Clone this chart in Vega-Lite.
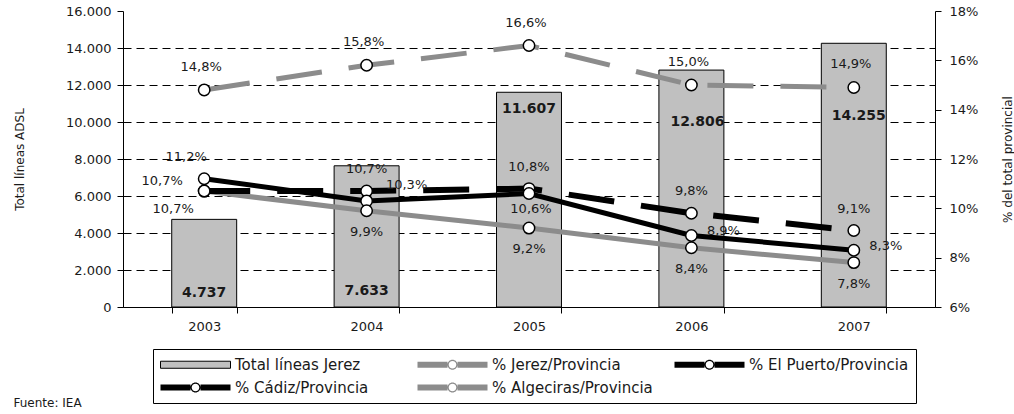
{
  "$schema": "https://vega.github.io/schema/vega-lite/v6.json",
  "width": 812,
  "height": 296,
  "autosize": {"type": "none"},
  "padding": {"left": 123, "top": 11, "right": 79, "bottom": 107},
  "title": {"text": "Fuente: IEA", "orient": "bottom", "anchor": "start", "frame": "bounds", "offset": -6, "dx": 0, "fontSize": 12, "fontWeight": "normal", "color": "#1a1a1a", "font": "DejaVu Sans"},
  "config": {
    "locale": {"number": {"decimal": ",", "thousands": ".", "grouping": [3], "currency": ["", " €"]}},
    "view": {"stroke": null},
    "font": "DejaVu Sans",
    "text": {"font": "DejaVu Sans", "color": "#1a1a1a"}
  },
  "datasets": {
    "bars": [
      {"year": "2003", "total": 4737},
      {"year": "2004", "total": 7633},
      {"year": "2005", "total": 11607},
      {"year": "2006", "total": 12806},
      {"year": "2007", "total": 14255}
    ],
    "pct": [
      {"year": "2003", "serie": "% Jerez/Provincia", "pct": 0.148},
      {"year": "2004", "serie": "% Jerez/Provincia", "pct": 0.158},
      {"year": "2005", "serie": "% Jerez/Provincia", "pct": 0.166},
      {"year": "2006", "serie": "% Jerez/Provincia", "pct": 0.150},
      {"year": "2007", "serie": "% Jerez/Provincia", "pct": 0.149},
      {"year": "2003", "serie": "% El Puerto/Provincia", "pct": 0.107},
      {"year": "2004", "serie": "% El Puerto/Provincia", "pct": 0.107},
      {"year": "2005", "serie": "% El Puerto/Provincia", "pct": 0.108},
      {"year": "2006", "serie": "% El Puerto/Provincia", "pct": 0.098},
      {"year": "2007", "serie": "% El Puerto/Provincia", "pct": 0.091},
      {"year": "2003", "serie": "% Cádiz/Provincia", "pct": 0.112},
      {"year": "2004", "serie": "% Cádiz/Provincia", "pct": 0.103},
      {"year": "2005", "serie": "% Cádiz/Provincia", "pct": 0.106},
      {"year": "2006", "serie": "% Cádiz/Provincia", "pct": 0.089},
      {"year": "2007", "serie": "% Cádiz/Provincia", "pct": 0.083},
      {"year": "2003", "serie": "% Algeciras/Provincia", "pct": 0.107},
      {"year": "2004", "serie": "% Algeciras/Provincia", "pct": 0.099},
      {"year": "2005", "serie": "% Algeciras/Provincia", "pct": 0.092},
      {"year": "2006", "serie": "% Algeciras/Provincia", "pct": 0.084},
      {"year": "2007", "serie": "% Algeciras/Provincia", "pct": 0.078}
    ]
  },
  "layer": [
    {
      "data": {"name": "bars"},
      "encoding": {
        "x": {"field": "year", "type": "nominal", "scale": {"paddingInner": 0.6, "paddingOuter": 0.3},
          "axis": {"title": null, "labelAngle": 0, "tickBand": "extent", "domainColor": "black", "tickColor": "black", "tickSize": 6, "labelPadding": 7, "labelFontSize": 13, "labelColor": "#1a1a1a", "labelFont": "DejaVu Sans"}},
        "y": {"field": "total", "type": "quantitative", "scale": {"domain": [0, 16000], "nice": false},
          "axis": {"title": "Total líneas ADSL", "values": [0, 2000, 4000, 6000, 8000, 10000, 12000, 14000, 16000], "format": ",.0f",
            "grid": true, "gridDash": [8, 5], "gridColor": "black", "gridWidth": 1,
            "gridOpacity": {"condition": {"test": "datum.value >= 16000", "value": 0}, "value": 1},
            "domainColor": "black", "tickColor": "black", "tickSize": 6, "labelPadding": 6,
            "labelFontSize": 13, "labelColor": "#1a1a1a", "labelFont": "DejaVu Sans",
            "titleFontSize": 12, "titleFontWeight": "normal", "titleColor": "#1a1a1a", "titleFont": "DejaVu Sans", "titlePadding": 39}}
      },
      "layer": [
        {
          "mark": {"type": "bar", "fill": "#c0c0c0", "stroke": "black", "strokeWidth": 1}
        },
        {
          "transform": [{"filter": "datum.year == '2003'"}],
          "mark": {"type": "text", "dy": 74, "fontWeight": "bold", "fontSize": 14},
          "encoding": {"text": {"field": "total", "type": "quantitative", "format": ",.0f"}}
        },
        {
          "transform": [{"filter": "datum.year == '2004'"}],
          "mark": {"type": "text", "dy": 125, "fontWeight": "bold", "fontSize": 14},
          "encoding": {"text": {"field": "total", "type": "quantitative", "format": ",.0f"}}
        },
        {
          "transform": [{"filter": "datum.year == '2005'"}],
          "mark": {"type": "text", "dy": 17, "fontWeight": "bold", "fontSize": 14},
          "encoding": {"text": {"field": "total", "type": "quantitative", "format": ",.0f"}}
        },
        {
          "transform": [{"filter": "datum.year == '2006'"}],
          "mark": {"type": "text", "dy": 52, "dx": 6, "fontWeight": "bold", "fontSize": 14},
          "encoding": {"text": {"field": "total", "type": "quantitative", "format": ",.0f"}}
        },
        {
          "transform": [{"filter": "datum.year == '2007'"}],
          "mark": {"type": "text", "dy": 73, "dx": 5, "fontWeight": "bold", "fontSize": 14},
          "encoding": {"text": {"field": "total", "type": "quantitative", "format": ",.0f"}}
        }
      ]
    },
    {
      "data": {"name": "pct"},
      "encoding": {
        "x": {"field": "year", "type": "nominal"},
        "y": {"field": "pct", "type": "quantitative", "scale": {"domain": [0.06, 0.18], "nice": false},
          "axis": {"orient": "right", "title": "% del total provincial", "values": [0.06, 0.08, 0.10, 0.12, 0.14, 0.16, 0.18], "format": ".0%",
            "grid": false, "domainColor": "black", "tickColor": "black", "tickSize": 6, "labelPadding": 8,
            "labelFontSize": 13, "labelColor": "#1a1a1a", "labelFont": "DejaVu Sans",
            "titleFontSize": 12, "titleFontWeight": "normal", "titleColor": "#1a1a1a", "titleFont": "DejaVu Sans", "titlePadding": 37, "titleAngle": 270}}
      },
      "layer": [
        {
          "transform": [{"filter": "datum.serie == '% Algeciras/Provincia'"}],
          "mark": {"type": "line", "stroke": "#8c8c8c", "strokeWidth": 5, "strokeCap": "butt"}
        },
        {
          "transform": [{"filter": "datum.serie == '% El Puerto/Provincia'"}],
          "mark": {"type": "line", "stroke": "black", "strokeWidth": 6, "strokeCap": "butt", "strokeDash": [46, 27]}
        },
        {
          "transform": [{"filter": "datum.serie == '% Cádiz/Provincia'"}],
          "mark": {"type": "line", "stroke": "black", "strokeWidth": 5, "strokeCap": "butt"}
        },
        {
          "transform": [{"filter": "datum.serie == '% Jerez/Provincia'"}],
          "mark": {"type": "line", "stroke": "#8c8c8c", "strokeWidth": 5, "strokeCap": "butt", "strokeDash": [46, 27]}
        },
        {
          "mark": {"type": "point", "shape": "circle", "filled": true, "fill": "white", "stroke": "black", "strokeWidth": 1.5, "size": 130, "opacity": 1}
        },
        {
          "transform": [{"filter": "datum.serie == '% Jerez/Provincia'"}],
          "mark": {"type": "text", "dy": -23, "dx": -3, "fontSize": 13},
          "encoding": {"text": {"field": "pct", "type": "quantitative", "format": ".1%"}}
        },
        {
          "transform": [{"filter": "datum.serie == '% El Puerto/Provincia' && datum.year == '2003'"}],
          "mark": {"type": "text", "dy": -10, "dx": -42, "fontSize": 13},
          "encoding": {"text": {"field": "pct", "type": "quantitative", "format": ".1%"}}
        },
        {
          "transform": [{"filter": "datum.serie == '% El Puerto/Provincia' && datum.year != '2003'"}],
          "mark": {"type": "text", "dy": -22, "dx": 0, "fontSize": 13},
          "encoding": {"text": {"field": "pct", "type": "quantitative", "format": ".1%"}}
        },
        {
          "transform": [{"filter": "datum.serie == '% Cádiz/Provincia' && datum.year == '2003'"}],
          "mark": {"type": "text", "dy": -22, "dx": -18, "fontSize": 13},
          "encoding": {"text": {"field": "pct", "type": "quantitative", "format": ".1%"}}
        },
        {
          "transform": [{"filter": "datum.serie == '% Cádiz/Provincia' && datum.year == '2004'"}],
          "mark": {"type": "text", "dy": -16, "dx": 40, "fontSize": 13},
          "encoding": {"text": {"field": "pct", "type": "quantitative", "format": ".1%"}}
        },
        {
          "transform": [{"filter": "datum.serie == '% Cádiz/Provincia' && datum.year == '2005'"}],
          "mark": {"type": "text", "dy": 15, "dx": 2, "fontSize": 13},
          "encoding": {"text": {"field": "pct", "type": "quantitative", "format": ".1%"}}
        },
        {
          "transform": [{"filter": "datum.serie == '% Cádiz/Provincia' && (datum.year == '2006' || datum.year == '2007')"}],
          "mark": {"type": "text", "dy": -4, "dx": 32, "fontSize": 13},
          "encoding": {"text": {"field": "pct", "type": "quantitative", "format": ".1%"}}
        },
        {
          "transform": [{"filter": "datum.serie == '% Algeciras/Provincia' && datum.year == '2003'"}],
          "mark": {"type": "text", "dy": 18, "dx": -31, "fontSize": 13},
          "encoding": {"text": {"field": "pct", "type": "quantitative", "format": ".1%"}}
        },
        {
          "transform": [{"filter": "datum.serie == '% Algeciras/Provincia' && datum.year != '2003'"}],
          "mark": {"type": "text", "dy": 21, "dx": 0, "fontSize": 13},
          "encoding": {"text": {"field": "pct", "type": "quantitative", "format": ".1%"}}
        },
        {
          "mark": {"type": "point", "filled": true, "opacity": 0, "stroke": "black", "strokeWidth": 1},
          "encoding": {
            "fill": {"field": "serie", "type": "nominal",
              "scale": {"domain": ["Total líneas Jerez", "% Jerez/Provincia", "% El Puerto/Provincia", "% Cádiz/Provincia", "% Algeciras/Provincia"],
                        "range": ["#c0c0c0", "#8c8c8c", "#000000", "#000000", "#8c8c8c"]},
              "legend": {"title": null, "orient": "none", "legendX": 30, "legendY": 338, "direction": "horizontal", "columns": 3, "gridAlign": "all",
                "strokeColor": "black", "fillColor": "white", "padding": 7, "symbolSize": 256, "symbolOpacity": 1,
                "symbolStrokeColor": "black", "symbolStrokeWidth": 1, "labelFontSize": 15, "labelFont": "DejaVu Sans", "labelColor": "#1a1a1a",
                "labelOffset": 58, "columnPadding": 19, "rowPadding": 6, "labelLimit": 300,
                "encode": {"symbols": {"update": {"stroke": [{"test": "datum.value === 'Total líneas Jerez'", "value": "black"}, {"value": "transparent"}], "strokeWidth": {"value": 1}}}}}},
            "shape": {"field": "serie", "type": "nominal",
              "scale": {"domain": ["Total líneas Jerez", "% Jerez/Provincia", "% El Puerto/Provincia", "% Cádiz/Provincia", "% Algeciras/Provincia"],
                        "range": [
                          "M-1,-0.44H7.75V0.44H-1Z",
                          "M-1,-0.375H2.75V0.375H-1Z M4,-0.375H7.75V0.375H4Z M4,0A0.625,0.625 0 1 1 2.75,0A0.625,0.625 0 1 1 4,0Z M3.85,0A0.475,0.475 0 1 0 2.9,0A0.475,0.475 0 1 0 3.85,0Z",
                          "M-1,-0.375H2.75V0.375H-1Z M4,-0.375H7.75V0.375H4Z M4,0A0.625,0.625 0 1 1 2.75,0A0.625,0.625 0 1 1 4,0Z M3.85,0A0.475,0.475 0 1 0 2.9,0A0.475,0.475 0 1 0 3.85,0Z",
                          "M-1,-0.375H2.75V0.375H-1Z M4,-0.375H7.75V0.375H4Z M4,0A0.625,0.625 0 1 1 2.75,0A0.625,0.625 0 1 1 4,0Z M3.85,0A0.475,0.475 0 1 0 2.9,0A0.475,0.475 0 1 0 3.85,0Z",
                          "M-1,-0.375H2.75V0.375H-1Z M4,-0.375H7.75V0.375H4Z M4,0A0.625,0.625 0 1 1 2.75,0A0.625,0.625 0 1 1 4,0Z M3.85,0A0.475,0.475 0 1 0 2.9,0A0.475,0.475 0 1 0 3.85,0Z"
                        ]},
              "legend": {"title": null, "orient": "none", "legendX": 30, "legendY": 338, "direction": "horizontal", "columns": 3, "gridAlign": "all",
                "strokeColor": "black", "fillColor": "white", "padding": 7, "symbolSize": 256, "symbolOpacity": 1,
                "symbolStrokeColor": "black", "symbolStrokeWidth": 1, "labelFontSize": 15, "labelFont": "DejaVu Sans", "labelColor": "#1a1a1a",
                "labelOffset": 58, "columnPadding": 19, "rowPadding": 6, "labelLimit": 300,
                "encode": {"symbols": {"update": {"stroke": [{"test": "datum.value === 'Total líneas Jerez'", "value": "black"}, {"value": "transparent"}], "strokeWidth": {"value": 1}}}}}}
          }
        }
      ]
    }
  ],
  "resolve": {"scale": {"y": "independent"}}
}
